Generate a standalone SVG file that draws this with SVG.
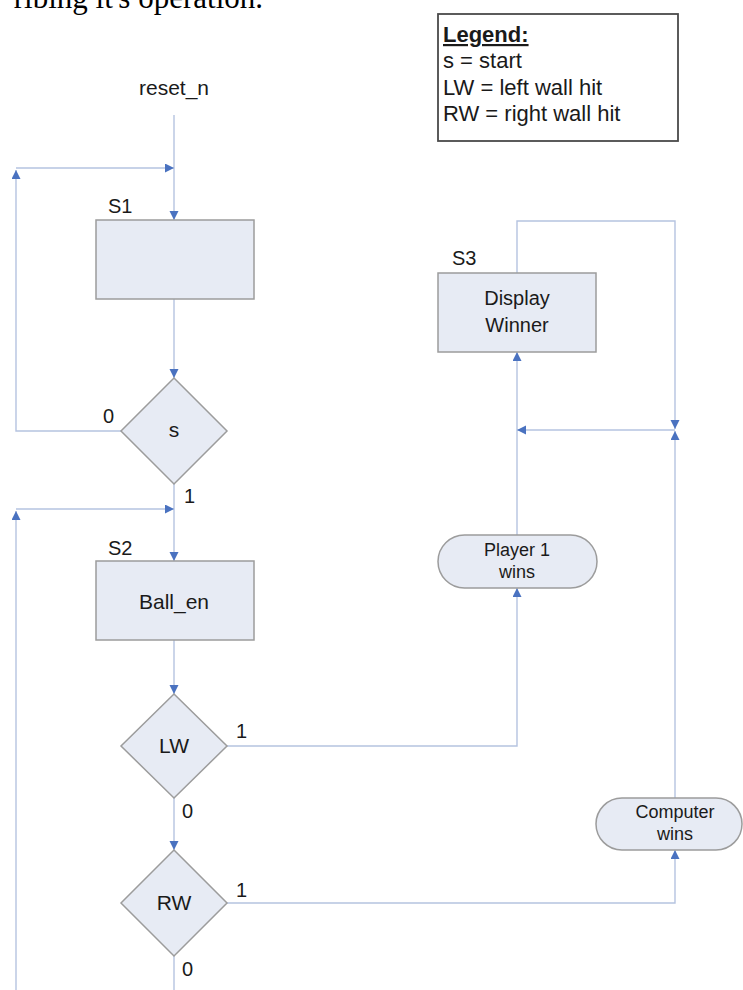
<svg xmlns="http://www.w3.org/2000/svg" width="743" height="990" viewBox="0 0 743 990">
<defs>
<marker id="arr" markerUnits="userSpaceOnUse" markerWidth="10" markerHeight="10" refX="9" refY="4.5" orient="auto">
<path d="M0,0 L9,4.5 L0,9 z" fill="#4a72c0"/>
</marker>
<style>
.shape{fill:#e7ebf4;stroke:#9c9c9c;stroke-width:1.5}
.conn{fill:none;stroke:#b5c3e0;stroke-width:1.4}
.arrow{marker-end:url(#arr)}
.t{font-family:"Liberation Sans",Arial,sans-serif;fill:#1a1a1a}
.lbl{font-size:20px}
.big{font-size:21px}
.small{font-size:18px}
.c{text-anchor:middle}
.leg{font-size:22px}
</style>
</defs>
<rect width="743" height="990" fill="#ffffff"/>
<text x="263" y="8" font-family="'Liberation Serif',serif" font-size="31" text-anchor="end" fill="#000">ribing it's operation.</text>

<g id="legend">
<rect x="438" y="14" width="240" height="127" fill="#ffffff" stroke="#4a4a4a" stroke-width="1.8"/>
<text class="t leg" x="443" y="42" font-weight="bold" text-decoration="underline">Legend:</text>
<text class="t leg" x="443" y="68">s = start</text>
<text class="t leg" x="443" y="95">LW = left wall hit</text>
<text class="t leg" x="443" y="121">RW = right wall hit</text>
</g>

<g id="connectors">
<path class="conn arrow" d="M174,115 V220"/>
<path class="conn arrow" d="M121,431 H16 V170"/>
<path class="conn arrow" d="M16,168 H174"/>
<path class="conn arrow" d="M174,299 V378"/>
<path class="conn arrow" d="M174,484 V561"/>
<path class="conn arrow" d="M16,990 V511"/>
<path class="conn arrow" d="M16,509 H174"/>
<path class="conn arrow" d="M174,640 V694"/>
<path class="conn arrow" d="M174,798 V850"/>
<path class="conn" d="M174,956 V990"/>
<path class="conn arrow" d="M227,746 H517 V588"/>
<path class="conn arrow" d="M517,535 V352"/>
<path class="conn arrow" d="M227,903 H675 V850"/>
<path class="conn arrow" d="M675,798 V431"/>
<path class="conn arrow" d="M517,273 V221 H675 V429"/>
<path class="conn arrow" d="M675,430 H517"/>
</g>

<g id="reset">
<text class="t big c" x="174" y="95">reset_n</text>
</g>

<g id="S1">
<text class="t lbl" x="108" y="213">S1</text>
<rect class="shape" x="96" y="220" width="158" height="79"/>
</g>

<g id="dec_s">
<polygon class="shape" points="174,378 227,431 174,484 121,431"/>
<text class="t big c" x="174" y="437">s</text>
<text class="t lbl" x="103" y="423">0</text>
<text class="t lbl" x="184" y="503">1</text>
</g>

<g id="S2">
<text class="t lbl" x="108" y="555">S2</text>
<rect class="shape" x="96" y="561" width="158" height="79"/>
<text class="t big c" x="174" y="609">Ball_en</text>
</g>

<g id="dec_LW">
<polygon class="shape" points="174,694 227,746 174,798 121,746"/>
<text class="t big c" x="174" y="753">LW</text>
<text class="t lbl" x="236" y="738">1</text>
<text class="t lbl" x="182" y="818">0</text>
</g>

<g id="dec_RW">
<polygon class="shape" points="174,850 227,903 174,956 121,903"/>
<text class="t big c" x="174" y="910">RW</text>
<text class="t lbl" x="236" y="897">1</text>
<text class="t lbl" x="182" y="976">0</text>
</g>

<g id="S3">
<text class="t lbl" x="452" y="265">S3</text>
<rect class="shape" x="438" y="273" width="158" height="79"/>
<text class="t lbl c" x="517" y="305">Display</text>
<text class="t lbl c" x="517" y="332">Winner</text>
</g>

<g id="player1">
<rect class="shape" x="438" y="535" width="159" height="53" rx="26.5" ry="26.5"/>
<text class="t small c" x="517" y="556">Player 1</text>
<text class="t small c" x="517" y="578">wins</text>
</g>

<g id="computer">
<rect class="shape" x="596" y="798" width="146" height="52" rx="26" ry="26"/>
<text class="t small c" x="675" y="818">Computer</text>
<text class="t small c" x="675" y="840">wins</text>
</g>
</svg>
